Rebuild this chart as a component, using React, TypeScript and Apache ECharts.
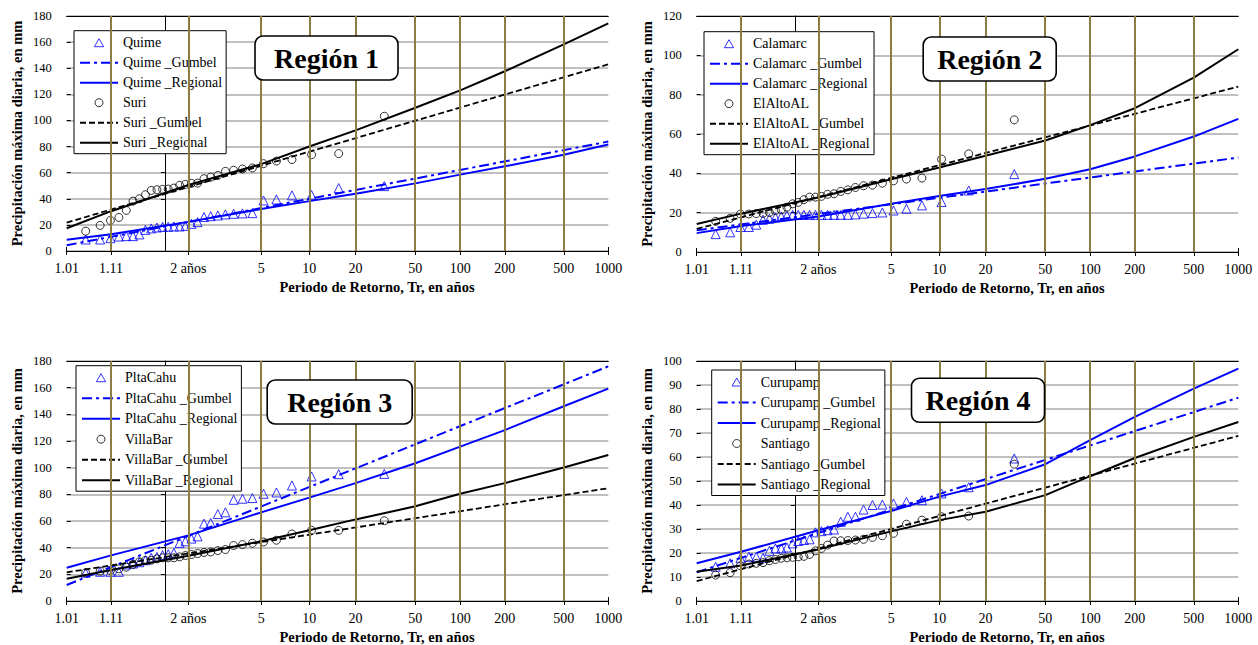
import React, { useEffect, useRef } from 'react';
import * as echarts from 'echarts';

// ---------- data ----------
const tickPeriods = [1.01, 1.11, 2, 5, 10, 20, 50, 100, 200, 500, 1000];
const tickLabels = ['1.01', '1.11', '2 años', '5', '10', '20', '50', '100', '200', '500', '1000'];
const gumbelPeriods = [1.01, 1000];
const nYears = 30;

// Región 1
const quimeObs = [8.8, 8.8, 9.8, 11.1, 11.4, 11.4, 12.7, 16.2, 17.3, 18, 18.5, 18.5, 18.8, 18.8, 19.3, 20.8, 22.1, 26, 26.7, 27.2, 28, 28.5, 28.8, 29, 38.7, 39.5, 42.6, 42.8, 48.2, 49.7];
const quimeGumbel = [4.4, 83.8];
const quimeRegional = [8.7, 12.8, 22.3, 32.2, 38.2, 43.8, 51.8, 58.5, 64.9, 73.8, 81.5];
const suriObs = [15.2, 19.6, 23.4, 25.7, 31.1, 38.2, 40, 43.1, 46.4, 46.9, 47.2, 47.4, 48.2, 50.3, 51, 51.8, 52, 55.4, 56.6, 57.9, 61, 61.8, 62.8, 63.6, 66.9, 68.9, 70, 73.8, 74.6, 103.2];
const suriGumbel = [21.8, 143];
const suriRegional = [17.4, 30.5, 50.5, 66.5, 80, 92.4, 109.7, 123, 137.7, 158.2, 174.4];

// Región 2
const calamarcObs = [9.1, 10, 12.7, 12.7, 13.9, 16.4, 16.9, 17.6, 18.1, 18.6, 18.9, 18.9, 18.9, 18.9, 18.9, 18.9, 18.9, 18.9, 18.9, 18.9, 19.1, 19.5, 19.8, 20.1, 21.1, 22, 23.7, 25.4, 31.3, 39.6];
const calamarcGumbel = [11, 48];
const calamarcRegional = [9.6, 13.2, 18.1, 24.5, 28.5, 32, 37.2, 42.1, 48.6, 58.7, 67.7];
const elAltoObs = [15.6, 17.1, 19.3, 19.3, 19.5, 19.6, 20.1, 21.1, 21.5, 22.8, 24.5, 25.2, 26.6, 27.9, 27.9, 28.3, 29.3, 29.6, 30.8, 31.6, 32.8, 33.7, 34, 35, 36.2, 37.1, 37.6, 47.2, 49.9, 67.2];
const elAltoGumbel = [11.7, 84.1];
const elAltoRegional = [14.2, 19.5, 27.7, 37, 43, 48.9, 56.7, 64.5, 73.1, 88.7, 103.1];

// Región 3
const pltaCahuObs = [21.2, 21.9, 21.9, 21.9, 27.4, 28.1, 29.1, 30.6, 32.4, 33.1, 34.4, 35.1, 36.1, 43.6, 44.8, 46.8, 48.5, 58, 58.5, 65.2, 66.5, 75.9, 76.7, 77.2, 80.4, 81.4, 86.6, 93.4, 95.1, 95.3];
const pltaCahuGumbel = [12, 176];
const pltaCahuRegional = [24.9, 34.2, 49.2, 66.5, 77.5, 88.4, 103.3, 115.8, 128.2, 146.1, 159.3];
const villaBarObs = [21.2, 22.4, 22.9, 24.1, 25.4, 27.4, 29.4, 30.4, 30.6, 31.6, 32.4, 32.4, 32.4, 33.1, 34.1, 34.9, 35.6, 36.4, 36.8, 37.8, 38.6, 41.6, 42.3, 43.3, 44.3, 45.6, 50.3, 53, 53, 60.2];
const villaBarGumbel = [21.5, 84.6];
const villaBarRegional = [16.7, 23.2, 34, 44.8, 53, 61.2, 71, 80.4, 88.4, 100.1, 109.5];

// Región 4
const curupampObs = [14.3, 15.7, 17.8, 18.4, 18.4, 18, 20.9, 21.9, 21.9, 22.3, 24, 25, 25.4, 25.7, 28.6, 29.1, 29.5, 29.8, 33, 35.1, 35.1, 38.1, 40, 40.2, 40.6, 41.3, 42, 44.8, 47.4, 59.4];
const curupampGumbel = [12, 84.7];
const curupampRegional = [15.7, 20.5, 29.5, 37.5, 43.5, 48.3, 57, 67, 76.7, 88.5, 96.8];
const santiagoObs = [10.8, 11.8, 14.7, 15.4, 15.7, 16, 16.8, 17.3, 17.8, 18, 18.2, 18.4, 18.6, 19.4, 20.9, 21.9, 23.3, 25, 25.1, 25.2, 25.4, 25.7, 26.5, 27.2, 28.2, 32, 33.7, 35.1, 35.4, 57];
const santiagoGumbel = [8.3, 68.8];
const santiagoRegional = [12.2, 14.8, 21.5, 29, 33.7, 37.2, 44.1, 52, 59.6, 68.4, 74.6];

const regionTitles = ['Región 1', 'Región 2', 'Región 3', 'Región 4'];
const blueStations = ['Quime', 'Calamarc', 'PltaCahu', 'Curupamp'];
const blackStations = ['Suri', 'ElAltoAL', 'VillaBar', 'Santiago'];
const yMaxes = [180, 120, 180, 100];
const yIntervals = [20, 20, 20, 10];

const panels = [
  { bObs: quimeObs, bG: quimeGumbel, bR: quimeRegional, kObs: suriObs, kG: suriGumbel, kR: suriRegional },
  { bObs: calamarcObs, bG: calamarcGumbel, bR: calamarcRegional, kObs: elAltoObs, kG: elAltoGumbel, kR: elAltoRegional },
  { bObs: pltaCahuObs, bG: pltaCahuGumbel, bR: pltaCahuRegional, kObs: villaBarObs, kG: villaBarGumbel, kR: villaBarRegional },
  { bObs: curupampObs, bG: curupampGumbel, bR: curupampRegional, kObs: santiagoObs, kG: santiagoGumbel, kR: santiagoRegional },
];

// ---------- layout / style ----------
const FONT = 'Liberation Serif';
const BLUE = '#0000ff';
const BLACK = '#000000';
const OLIVE = '#8c7c45';
const GREY = '#ababab';
const TRI_ICON = 'path://M5,0 L10,8.66 L0,8.66 Z';

const gridPos = [
  { left: 66.7, top: 16, width: 541.6, height: 235 },
  { left: 696.7, top: 16, width: 541.6, height: 236 },
  { left: 66.7, top: 361, width: 541.6, height: 240.5 },
  { left: 696.7, top: 361, width: 541.6, height: 240 },
];
const legendPos = [
  { left: 74, top: 30.7, gap: 6 },
  { left: 704, top: 31.7, gap: 6 },
  { left: 76, top: 365.7, gap: 6.5 },
  { left: 711.7, top: 370, gap: 6.5 },
];
const titlePos = [
  { left: 255, top: 36, ph: 19 },
  { left: 922.7, top: 37, ph: 14.5 },
  { left: 266.7, top: 380, ph: 20.5 },
  { left: 911, top: 378.3, ph: 14.5 },
];

// Gumbel reduced variate for return period T
const gx = (T: number) => -Math.log(-Math.log(1 - 1 / T));
const tickX = tickPeriods.map(gx);
const xMin = gx(tickPeriods[0]);
const xMax = gx(tickPeriods[tickPeriods.length - 1]);

const fmtX = (v: number) => {
  let best = 0;
  for (let i = 1; i < tickX.length; i++) {
    if (Math.abs(tickX[i] - v) < Math.abs(tickX[best] - v)) best = i;
  }
  return tickLabels[best];
};

const obsData = (vals: number[]) =>
  vals.map((v, i) => [gx((nYears + 1) / (nYears - i)), v]);
const gumbelData = (vals: number[]) => vals.map((v, i) => [gx(gumbelPeriods[i]), v]);
const regData = (vals: number[]) => vals.map((v, i) => [tickX[i], v]);

function buildOption() {
  const grid: any[] = [];
  const xAxis: any[] = [];
  const yAxis: any[] = [];
  const series: any[] = [];
  const legend: any[] = [];
  const title: any[] = [];

  panels.forEach((p, i) => {
    grid.push({ ...gridPos[i], containLabel: false });

    xAxis.push({
      type: 'value',
      gridIndex: i,
      min: xMin,
      max: xMax,
      z: 1,
      axisLine: { onZero: false, lineStyle: { color: BLACK, width: 1 } },
      axisTick: { show: true, customValues: tickX, length: 4, lineStyle: { color: BLACK } },
      axisLabel: {
        customValues: tickX,
        formatter: fmtX,
        margin: 10,
        fontSize: 14,
        fontFamily: FONT,
        color: BLACK,
      },
      splitLine: { show: false },
      name: 'Periodo de Retorno, Tr, en años',
      nameLocation: 'middle',
      nameGap: 28,
      nameTextStyle: {
        fontFamily: FONT,
        fontWeight: 'bold',
        fontSize: 14.5,
        color: BLACK,
        padding: [0, 0, 0, 79],
      },
    });

    yAxis.push({
      type: 'value',
      gridIndex: i,
      min: 0,
      max: yMaxes[i],
      interval: yIntervals[i],
      axisLine: { show: true, lineStyle: { color: BLACK, width: 1 } },
      axisTick: { show: true, length: 4, lineStyle: { color: BLACK } },
      axisLabel: { margin: 15, fontSize: 12.5, fontFamily: FONT, color: BLACK },
      splitLine: { show: true, lineStyle: { color: GREY, width: 1.5 } },
      name: 'Precipitación máxima diaria, en mm',
      nameLocation: 'middle',
      nameGap: 42,
      nameTextStyle: { fontFamily: FONT, fontWeight: 'bold', fontSize: 14.5, color: BLACK },
    });
  });

  // top border axes (index 4..7) and inside tick axes (index 8..11)
  panels.forEach((_, i) => {
    xAxis.push({
      type: 'value',
      gridIndex: i,
      position: 'top',
      min: xMin,
      max: xMax,
      z: 1,
      axisLine: { show: true, onZero: false, lineStyle: { color: BLACK, width: 1 } },
      axisTick: { show: false },
      axisLabel: { show: false },
      splitLine: { show: false },
    });
  });
  panels.forEach((_, i) => {
    xAxis.push({
      type: 'value',
      gridIndex: i,
      position: 'bottom',
      min: xMin,
      max: xMax,
      z: 1,
      axisLine: { show: false, onZero: false },
      axisTick: { show: true, inside: true, customValues: tickX, length: 4, lineStyle: { color: BLACK } },
      axisLabel: { show: false },
      splitLine: { show: false },
    });
    yAxis.push({
      type: 'value',
      gridIndex: i,
      position: 'left',
      min: 0,
      max: yMaxes[i],
      interval: yIntervals[i],
      z: 1,
      axisLine: { show: false, onZero: false },
      axisTick: { show: true, inside: true, length: 4, lineStyle: { color: BLACK } },
      axisLabel: { show: false },
      splitLine: { show: false },
    });
  });

  panels.forEach((p, i) => {
    const b = blueStations[i];
    const k = blackStations[i];

    // vertical olive grid lines
    series.push({
      type: 'line',
      xAxisIndex: i,
      yAxisIndex: i,
      data: [],
      z: 1,
      silent: true,
      markLine: {
        silent: true,
        symbol: ['none', 'none'],
        label: { show: false },
        lineStyle: { color: OLIVE, width: 2, type: 'solid' },
        emphasis: { disabled: true },
        data: tickX.slice(1).map((v) => ({ xAxis: v })),
      },
    });

    series.push({
      type: 'scatter',
      name: b,
      xAxisIndex: i,
      yAxisIndex: i,
      data: obsData(p.bObs),
      symbol: 'triangle',
      symbolSize: 9,
      itemStyle: { color: 'rgba(255,255,255,0)', borderColor: BLUE, borderWidth: 1 },
    });
    series.push({
      type: 'line',
      name: b + ' _Gumbel',
      xAxisIndex: i,
      yAxisIndex: i,
      data: gumbelData(p.bG),
      symbol: 'none',
      itemStyle: { color: BLUE },
      lineStyle: { color: BLUE, width: 2, type: [10, 4, 3, 4] },
    });
    series.push({
      type: 'line',
      name: b + ' _Regional',
      xAxisIndex: i,
      yAxisIndex: i,
      data: regData(p.bR),
      symbol: 'none',
      itemStyle: { color: BLUE },
      lineStyle: { color: BLUE, width: 2 },
    });
    series.push({
      type: 'scatter',
      name: k,
      xAxisIndex: i,
      yAxisIndex: i,
      data: obsData(p.kObs),
      symbol: 'circle',
      symbolSize: 8,
      itemStyle: { color: 'rgba(255,255,255,0)', borderColor: BLACK, borderWidth: 1 },
    });
    series.push({
      type: 'line',
      name: k + ' _Gumbel',
      xAxisIndex: i,
      yAxisIndex: i,
      data: gumbelData(p.kG),
      symbol: 'none',
      itemStyle: { color: BLACK },
      lineStyle: { color: BLACK, width: 1.8, type: [6, 3] },
    });
    series.push({
      type: 'line',
      name: k + ' _Regional',
      xAxisIndex: i,
      yAxisIndex: i,
      data: regData(p.kR),
      symbol: 'none',
      itemStyle: { color: BLACK },
      lineStyle: { color: BLACK, width: 2 },
    });

    const noSym = { opacity: 0 };
    legend.push({
      data: [
        { name: b, icon: TRI_ICON },
        { name: b + ' _Gumbel', itemStyle: noSym },
        { name: b + ' _Regional', itemStyle: noSym },
        { name: k, icon: 'circle' },
        { name: k + ' _Gumbel', itemStyle: noSym },
        { name: k + ' _Regional', itemStyle: noSym },
      ],
      orient: 'vertical',
      left: legendPos[i].left,
      top: legendPos[i].top,
      padding: [5, 4, 4, 5],
      itemWidth: 38,
      itemHeight: 8,
      itemGap: legendPos[i].gap,
      symbolKeepAspect: true,
      backgroundColor: '#ffffff',
      borderColor: BLACK,
      borderWidth: 1,
      selectedMode: false,
      itemStyle: { borderWidth: 1 },
      textStyle: { fontFamily: FONT, fontSize: 14, color: BLACK },
    });

    title.push({
      text: regionTitles[i],
      left: titlePos[i].left,
      top: titlePos[i].top,
      padding: [7, titlePos[i].ph],
      backgroundColor: '#ffffff',
      borderColor: BLACK,
      borderWidth: 1.6,
      borderRadius: 8,
      textStyle: {
        fontFamily: FONT,
        fontWeight: 'bold',
        fontSize: 28,
        lineHeight: 30,
        color: BLACK,
      },
    });
  });

  return {
    animation: false,
    backgroundColor: '#ffffff',
    textStyle: { fontFamily: FONT },
    grid,
    xAxis,
    yAxis,
    series,
    legend,
    title,
  };
}

export default function App() {
  const ref = useRef<HTMLDivElement>(null);
  useEffect(() => {
    if (!ref.current) return;
    const chart = echarts.init(ref.current, undefined, { renderer: 'svg' });
    chart.setOption(buildOption() as any);
    return () => chart.dispose();
  }, []);
  return (
    <div
      ref={ref}
      style={{ position: 'absolute', left: 0, top: 0, width: 1258, height: 645 }}
    />
  );
}
